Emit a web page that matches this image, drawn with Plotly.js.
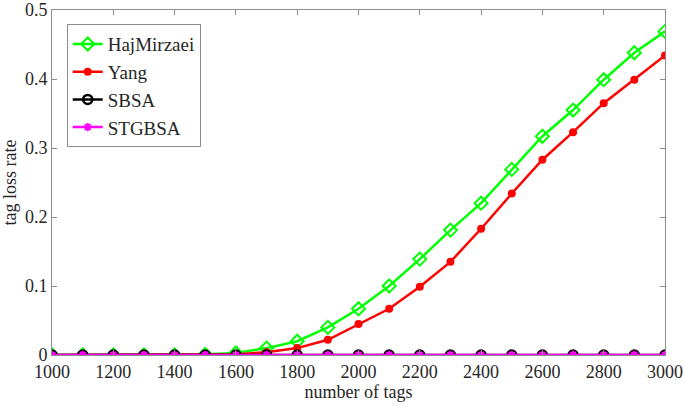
<!DOCTYPE html>
<html>
<head>
<meta charset="utf-8">
<script src="https://cdn.plot.ly/plotly-3.0.1.min.js"></script>
<style>html,body{margin:0;padding:0;background:#fff;}#chart{width:685px;height:406px;}</style>
</head>
<body>
<div id="chart"></div>
<script>
const tags = [1000,1100,1200,1300,1400,1500,1600,1700,1800,1900,2000,2100,2200,2300,2400,2500,2600,2700,2800,2900,3000];
const hajMirzaei = [0,0,0,0,0,0.001,0.003,0.01,0.02,0.04,0.067,0.10,0.139,0.181,0.22,0.269,0.317,0.355,0.399,0.438,0.469];
const yang = [0,0,0,0,0,0,0.001,0.004,0.01,0.022,0.045,0.067,0.099,0.135,0.183,0.234,0.283,0.323,0.365,0.399,0.434];
const sbsa = [0,0,0,0,0,0,0,0,0,0,0,0,0,0,0,0,0,0,0,0,0];
const stgbsa = [0,0,0,0,0,0,0,0,0,0,0,0,0,0,0,0,0,0,0,0,0];
const xTicks = [1000,1200,1400,1600,1800,2000,2200,2400,2600,2800,3000];
const yTicks = [0,0.1,0.2,0.3,0.4,0.5];

const font = {family: '"Liberation Serif", "Times New Roman", serif', color: '#262626'};
const traces = [
  {x: tags, y: hajMirzaei, name: 'HajMirzaei', mode: 'lines+markers',
   line: {color: '#00ff00', width: 2.5}, marker: {symbol: 'diamond-open', size: 10, color: '#00ff00', line: {width: 2, color: '#00ff00'}}},
  {x: tags, y: yang, name: 'Yang', mode: 'lines+markers',
   line: {color: '#ff0000', width: 2.5}, marker: {symbol: 'circle', size: 8, color: '#ff0000'}},
  {x: tags, y: sbsa, name: 'SBSA', mode: 'lines+markers',
   line: {color: '#000000', width: 2.5}, marker: {symbol: 'circle-open', size: 9, color: '#000000', line: {width: 2.5, color: '#000000'}}},
  {x: tags, y: stgbsa, name: 'STGBSA', mode: 'lines+markers',
   line: {color: '#ff00ff', width: 2.5}, marker: {symbol: 'asterisk-open', size: 7, color: '#ff00ff', line: {width: 2, color: '#ff00ff'}}}
];
const axisCommon = {
  showline: true, linecolor: '#8c8c8c', linewidth: 1, mirror: 'ticks',
  ticks: 'inside', ticklen: 5, tickcolor: '#8c8c8c', showgrid: false, zeroline: false,
  tickfont: Object.assign({size: 18}, font), automargin: false
};
const layout = {
  width: 685, height: 406,
  margin: {l: 52, r: 20, t: 10, b: 51},
  paper_bgcolor: '#ffffff', plot_bgcolor: '#ffffff',
  font: font,
  showlegend: true,
  legend: {x: 0.024, y: 0.959, xanchor: 'left', yanchor: 'top', bordercolor: '#8c8c8c', borderwidth: 1,
           bgcolor: '#ffffff', font: Object.assign({size: 19}, font), tracegroupgap: 0},
  xaxis: Object.assign({}, axisCommon, {range: [1000, 3000], tickvals: xTicks, ticktext: xTicks.map(String),
    title: {text: 'number of tags', font: Object.assign({size: 18}, font), standoff: 2}}),
  yaxis: Object.assign({}, axisCommon, {range: [0, 0.5], tickvals: yTicks, ticktext: yTicks.map(String),
    title: {text: 'tag loss rate', font: Object.assign({size: 18}, font), standoff: 4}})
};
Plotly.newPlot('chart', traces, layout, {staticPlot: true, displayModeBar: false});
</script>
</body>
</html>
